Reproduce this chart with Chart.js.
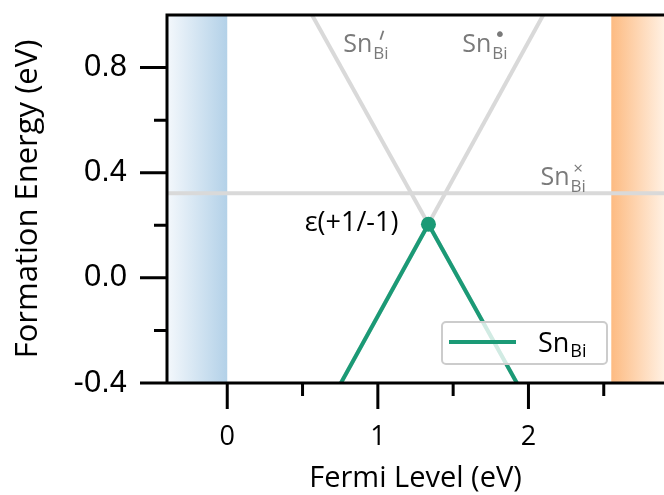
<!DOCTYPE html>
<html>
<head>
<meta charset="utf-8">
<script src="https://cdn.jsdelivr.net/npm/chart.js@4/dist/chart.umd.min.js"></script>
<style>
  html, body { margin: 0; padding: 0; background: #fff; }
</style>
</head>
<body>
<canvas id="chart" width="664" height="495"></canvas>
<script>
// axis ranges and ticks (eV)
var xRange = [-0.4, 2.9];
var yRange = [-0.4, 1.0];
var xTicks = [0, 1, 2];
var xMinor = [0.5, 1.5, 2.5];
var yTicks = [-0.4, 0.0, 0.4, 0.8];
var yMinor = [-0.2, 0.2, 0.6];

// band edges
var vbm = 0;
var cbm = 2.55;

// lowest formation energy of Sn on the Bi site
var snFermi = [0.755, 1.336, 1.923];
var snEnergy = [-0.4, 0.204, -0.4];

// single charge states
var minusFermi = [0.563, 1.923];
var minusEnergy = [1.0, -0.4];
var plusFermi = [0.755, 2.098];
var plusEnergy = [-0.4, 1.0];
var neutralFermi = [-0.4, 2.9];
var neutralEnergy = [0.322, 0.322];

// charge transition level
var transFermi = [1.336];
var transEnergy = [0.204];
var transLabel = 'ε(+1/-1)';

// charge state labels: mark, fermi level, energy of the baseline
var stateMarks = ['′', '•', '×'];
var stateFermi = [0.77, 1.56, 2.08];
var stateEnergy = [0.86, 0.86, 0.354];

var green = '#1b9a76';
var gray = '#d9d9d9';

function pts(xs, ys) {
    return xs.map(function (x, i) { return { x: x, y: ys[i] }; });
}

// "Sn" with "Bi" subscript and the Kröger-Vink mark above it
function drawSn(ctx, x, y, size, color, mark, drop) {
    ctx.save();
    ctx.fillStyle = color;
    ctx.strokeStyle = color;
    ctx.textAlign = 'left';
    ctx.textBaseline = 'alphabetic';
    ctx.font = size + 'px "Open Sans"';
    ctx.fillText('Sn', x, y);
    var w = ctx.measureText('Sn').width + 1;
    var sub = Math.round(size * 0.66);
    ctx.font = sub + 'px "Open Sans"';
    ctx.fillText('Bi', x + w, y + drop);
    var bw = ctx.measureText('Bi').width;
    var cx = x + w + bw / 2;
    var my = y - size * 0.64;
    if (mark === '′') {
        ctx.lineWidth = 1.8;
        ctx.beginPath();
        ctx.moveTo(cx + 2.5, my - 5);
        ctx.lineTo(cx - 0.5, my + 4);
        ctx.stroke();
    } else if (mark) {
        ctx.textAlign = 'center';
        ctx.textBaseline = 'middle';
        if (mark === '•') ctx.font = Math.round(size * 0.8) + 'px "DejaVu Sans"';
        ctx.fillText(mark, cx, my);
    }
    ctx.restore();
}

function noPad(s) {
    s.paddingTop = 0; s.paddingBottom = 0;
    s.paddingLeft = 0; s.paddingRight = 0;
}

// shaded valence / conduction band regions
var bands = {
    id: 'bands',
    beforeDatasetsDraw: function (chart) {
        var ctx = chart.ctx, a = chart.chartArea;
        var xs = chart.scales.x;
        var x0 = xs.getPixelForValue(xRange[0]), x1 = xs.getPixelForValue(vbm);
        var g = ctx.createLinearGradient(x0, 0, x1, 0);
        g.addColorStop(0, '#f4f8fc');
        g.addColorStop(1, '#b3d1e8');
        ctx.save();
        ctx.fillStyle = g;
        ctx.fillRect(x0, a.top, x1 - x0, a.bottom - a.top);
        var c0 = xs.getPixelForValue(cbm), c1 = a.right;
        var o = ctx.createLinearGradient(c0, 0, c1, 0);
        o.addColorStop(0, '#fdbb82');
        o.addColorStop(1, '#fff0e2');
        ctx.fillStyle = o;
        ctx.fillRect(c0, a.top, c1 - c0, a.bottom - a.top);
        ctx.restore();
    }
};

// axis frame, tick marks, labels and legend
var frame = {
    id: 'frame',
    afterDatasetsDraw: function (chart) {
        var ctx = chart.ctx, a = chart.chartArea;
        var xs = chart.scales.x, ys = chart.scales.y;
        ctx.save();
        ctx.strokeStyle = '#000';
        ctx.lineWidth = 3;
        ctx.beginPath();
        ctx.moveTo(a.right, a.top); ctx.lineTo(a.left, a.top);
        ctx.lineTo(a.left, a.bottom); ctx.lineTo(a.right, a.bottom);
        yTicks.forEach(function (v) {
            var y = ys.getPixelForValue(v);
            ctx.moveTo(a.left - 27, y); ctx.lineTo(a.left, y);
        });
        yMinor.forEach(function (v) {
            var y = ys.getPixelForValue(v);
            ctx.moveTo(a.left - 13, y); ctx.lineTo(a.left, y);
        });
        xTicks.forEach(function (v) {
            var x = xs.getPixelForValue(v);
            ctx.moveTo(x, a.bottom); ctx.lineTo(x, a.bottom + 26);
        });
        xMinor.forEach(function (v) {
            var x = xs.getPixelForValue(v);
            ctx.moveTo(x, a.bottom); ctx.lineTo(x, a.bottom + 13);
        });
        ctx.stroke();
        ctx.restore();

        stateMarks.forEach(function (m, i) {
            drawSn(ctx, xs.getPixelForValue(stateFermi[i]), ys.getPixelForValue(stateEnergy[i]),
                25, '#7a7a7a', m, 7);
        });

        ctx.save();
        ctx.fillStyle = '#000';
        ctx.font = '27px "Open Sans"';
        ctx.textAlign = 'right';
        ctx.textBaseline = 'middle';
        ctx.fillText(transLabel, xs.getPixelForValue(transFermi[0]) - 30, ys.getPixelForValue(transEnergy[0]) - 1);
        ctx.restore();

        // legend box
        var lx = a.right - 222, ly = a.bottom - 61, lw = 165, lh = 42;
        ctx.save();
        ctx.fillStyle = 'rgba(255,255,255,0.8)';
        ctx.strokeStyle = '#cccccc';
        ctx.lineWidth = 2;
        ctx.beginPath();
        ctx.roundRect(lx, ly, lw, lh, 4);
        ctx.fill();
        ctx.stroke();
        ctx.strokeStyle = green;
        ctx.lineWidth = 4;
        ctx.beginPath();
        ctx.moveTo(lx + 7, ly + 20); ctx.lineTo(lx + 74, ly + 20);
        ctx.stroke();
        ctx.restore();
        drawSn(ctx, lx + 96, ly + 30, 27, '#000', null, 5);
    }
};

new Chart(document.getElementById('chart'), {
    type: 'scatter',
    data: {
        datasets: [
            { data: pts(neutralFermi, neutralEnergy), showLine: true, borderColor: gray, borderWidth: 4, pointRadius: 0, clip: 0, order: 3 },
            { data: pts(minusFermi, minusEnergy), showLine: true, borderColor: gray, borderWidth: 4, pointRadius: 0, clip: 0, order: 3 },
            { data: pts(plusFermi, plusEnergy), showLine: true, borderColor: gray, borderWidth: 4, pointRadius: 0, clip: 0, order: 3 },
            { label: 'SnBi', data: pts(snFermi, snEnergy), showLine: true, borderColor: green, borderWidth: 4, pointRadius: 0, clip: 0, order: 1 },
            { data: pts(transFermi, transEnergy), pointRadius: 7.5, pointBackgroundColor: green, pointBorderWidth: 0, order: 0 }
        ]
    },
    options: {
        responsive: false,
        animation: false,
        devicePixelRatio: 1,
        layout: { autoPadding: false, padding: { top: 15, right: 0, left: 0, bottom: 0 } },
        plugins: { legend: { display: false }, tooltip: { enabled: false } },
        scales: {
            x: {
                type: 'linear',
                min: xRange[0],
                max: xRange[1],
                grid: { display: false, drawTicks: false },
                border: { display: false },
                afterBuildTicks: function (s) { s.ticks = xTicks.map(function (v) { return { value: v }; }); },
                afterFit: function (s) { s.height = 112; noPad(s); },
                ticks: {
                    padding: 38,
                    color: '#000',
                    font: { family: 'Open Sans', size: 27 },
                    callback: function (v) { return String(v); }
                },
                title: {
                    display: true,
                    text: 'Fermi Level (eV)',
                    color: '#000',
                    font: { family: 'Open Sans', size: 29, lineHeight: 1 },
                    padding: { top: 0, bottom: 2 }
                }
            },
            y: {
                min: yRange[0],
                max: yRange[1],
                grid: { display: false, drawTicks: false },
                border: { display: false },
                afterBuildTicks: function (s) { s.ticks = yTicks.map(function (v) { return { value: v }; }); },
                afterFit: function (s) { s.width = 167; noPad(s); },
                ticks: {
                    padding: 40,
                    color: '#000',
                    font: { family: 'Liberation Sans', size: 31 },
                    callback: function (v) { return v.toFixed(1); }
                },
                title: {
                    display: true,
                    text: 'Formation Energy (eV)',
                    color: '#000',
                    font: { family: 'Open Sans', size: 31, lineHeight: 1 },
                    padding: { top: 13, bottom: 0 }
                }
            }
        }
    },
    plugins: [bands, frame]
});
</script>
</body>
</html>
